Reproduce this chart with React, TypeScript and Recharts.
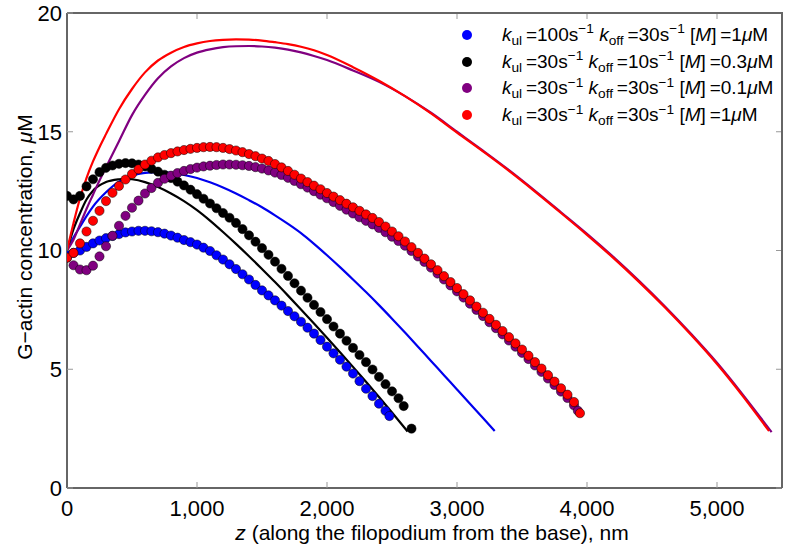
import { ComposedChart, Line, Scatter, XAxis, YAxis } from 'recharts'

type Pt = [number, number]

// z (nm) vs G-actin (uM), simulation points
const blueDots: Pt[] = [
  [0, 9.8], [50, 9.9], [100, 10.0], [150, 10.15], [200, 10.3], [250, 10.42], [300, 10.52], [350, 10.61],
  [400, 10.69], [450, 10.76], [500, 10.8], [550, 10.83], [600, 10.83], [650, 10.81], [700, 10.77],
  [750, 10.71], [800, 10.63], [850, 10.54], [900, 10.44], [950, 10.35], [1000, 10.25], [1050, 10.12],
  [1100, 9.98], [1150, 9.8], [1200, 9.62], [1250, 9.42], [1300, 9.22], [1350, 9.0], [1400, 8.78],
  [1450, 8.55], [1500, 8.32], [1550, 8.11], [1600, 7.9], [1650, 7.68], [1700, 7.45], [1750, 7.23],
  [1800, 7.0], [1850, 6.75], [1900, 6.5], [1950, 6.23], [2000, 5.95], [2050, 5.67], [2100, 5.4],
  [2150, 5.11], [2200, 4.82], [2250, 4.5], [2300, 4.18], [2350, 3.87], [2400, 3.55], [2450, 3.25],
  [2480, 3.03],
]

const blackDots: Pt[] = [
  [0, 12.3], [50, 12.15], [100, 12.3], [150, 12.7], [200, 13.0], [250, 13.3], [300, 13.48], [350, 13.58],
  [400, 13.65], [450, 13.68], [500, 13.67], [550, 13.62], [600, 13.54], [650, 13.44], [700, 13.32],
  [750, 13.19], [800, 13.05], [850, 12.9], [900, 12.74], [950, 12.56], [1000, 12.37], [1050, 12.18],
  [1100, 11.98], [1150, 11.78], [1200, 11.58], [1250, 11.38], [1300, 11.16], [1350, 10.9], [1400, 10.64],
  [1450, 10.37], [1500, 10.1], [1550, 9.82], [1600, 9.53], [1650, 9.23], [1700, 8.93], [1750, 8.62],
  [1800, 8.31], [1850, 8.01], [1900, 7.71], [1950, 7.41], [2000, 7.11], [2050, 6.8], [2100, 6.5],
  [2150, 6.2], [2200, 5.9], [2250, 5.6], [2300, 5.3], [2350, 4.99], [2400, 4.68], [2450, 4.37],
  [2500, 4.07], [2550, 3.78], [2590, 3.45], [2650, 2.5],
]

const purpleDots: Pt[] = [
  [0, 9.7], [50, 9.38], [100, 9.2], [150, 9.17], [200, 9.36], [250, 9.75], [300, 10.18], [350, 10.62],
  [400, 11.04], [450, 11.46], [500, 11.8], [550, 12.1], [600, 12.4], [650, 12.63], [700, 12.85],
  [750, 13.02], [800, 13.15], [850, 13.26], [900, 13.35], [950, 13.43], [1000, 13.49], [1050, 13.54],
  [1100, 13.57], [1150, 13.6], [1200, 13.62], [1250, 13.62], [1300, 13.61], [1350, 13.59], [1400, 13.56],
  [1450, 13.51], [1500, 13.45], [1550, 13.37], [1600, 13.28], [1650, 13.18], [1700, 13.06], [1750, 12.93],
  [1800, 12.79], [1850, 12.65], [1900, 12.5], [1950, 12.35], [2000, 12.2], [2050, 12.04], [2100, 11.88],
  [2150, 11.72], [2200, 11.56], [2250, 11.4], [2300, 11.25], [2350, 11.1], [2400, 10.95], [2450, 10.77],
  [2500, 10.58], [2550, 10.4], [2600, 10.2], [2650, 9.98], [2700, 9.75], [2750, 9.52], [2800, 9.28],
  [2850, 9.03], [2900, 8.78], [2950, 8.53], [3000, 8.28], [3050, 8.02], [3100, 7.76], [3150, 7.5],
  [3200, 7.24], [3250, 6.98], [3300, 6.73], [3350, 6.47], [3400, 6.21], [3450, 5.95], [3500, 5.69],
  [3550, 5.43], [3600, 5.16], [3650, 4.89], [3700, 4.61], [3750, 4.34], [3800, 4.06], [3850, 3.79],
  [3900, 3.48], [3930, 3.25],
]

const redDots: Pt[] = [
  [0, 9.7], [50, 9.9], [100, 10.3], [150, 10.8], [200, 11.25], [250, 11.67], [300, 12.08], [350, 12.43],
  [400, 12.72], [450, 12.99], [500, 13.22], [550, 13.42], [600, 13.62], [650, 13.78], [700, 13.92],
  [750, 14.02], [800, 14.1], [850, 14.17], [900, 14.23], [950, 14.28], [1000, 14.32], [1050, 14.35],
  [1100, 14.36], [1150, 14.35], [1200, 14.32], [1250, 14.27], [1300, 14.21], [1350, 14.14], [1400, 14.06],
  [1450, 13.97], [1500, 13.87], [1550, 13.77], [1600, 13.64], [1650, 13.5], [1700, 13.35], [1750, 13.19],
  [1800, 13.03], [1850, 12.88], [1900, 12.73], [1950, 12.58], [2000, 12.42], [2050, 12.27], [2100, 12.12],
  [2150, 11.97], [2200, 11.82], [2250, 11.67], [2300, 11.52], [2350, 11.37], [2400, 11.2], [2450, 11.01],
  [2500, 10.8], [2550, 10.6], [2600, 10.38], [2650, 10.14], [2700, 9.9], [2750, 9.66], [2800, 9.42],
  [2850, 9.17], [2900, 8.92], [2950, 8.67], [3000, 8.42], [3050, 8.16], [3100, 7.9], [3150, 7.64],
  [3200, 7.38], [3250, 7.12], [3300, 6.87], [3350, 6.61], [3400, 6.35], [3450, 6.09], [3500, 5.83],
  [3550, 5.57], [3600, 5.3], [3650, 5.03], [3700, 4.75], [3750, 4.48], [3800, 4.2], [3850, 3.93],
  [3900, 3.62], [3946, 3.15],
]

// model curves
const blueLine: Pt[] = [
  [0, 10], [50, 10.55], [100, 11.0], [150, 11.45], [200, 11.85], [300, 12.45], [400, 12.9], [500, 13.15],
  [600, 13.27], [700, 13.3], [800, 13.27], [900, 13.18], [1000, 13.05], [1100, 12.87], [1200, 12.65],
  [1300, 12.4], [1400, 12.12], [1500, 11.82], [1600, 11.48], [1700, 11.12], [1800, 10.73], [1900, 10.28],
  [2000, 9.8], [2100, 9.3], [2200, 8.78], [2300, 8.25], [2400, 7.7], [2500, 7.13], [2600, 6.55],
  [2700, 5.95], [2800, 5.35], [2900, 4.75], [3000, 4.15], [3100, 3.55], [3200, 2.95], [3290, 2.4],
]

const blackLine: Pt[] = [
  [0, 10], [50, 10.9], [100, 11.57], [150, 12.15], [200, 12.52], [300, 12.88], [400, 13.0], [450, 13.02],
  [500, 13.0], [600, 12.88], [700, 12.67], [800, 12.4], [900, 12.08], [1000, 11.7], [1100, 11.26],
  [1200, 10.78], [1300, 10.28], [1400, 9.76], [1500, 9.22], [1600, 8.67], [1700, 8.1], [1800, 7.52],
  [1900, 6.93], [2000, 6.33], [2100, 5.72], [2200, 5.1], [2300, 4.47], [2400, 3.83], [2500, 3.18],
  [2620, 2.38],
]

const purpleLine: Pt[] = [
  [0, 10], [50, 10.45], [100, 11.1], [150, 11.75], [200, 12.35], [250, 12.95], [300, 13.5], [350, 14.05],
  [400, 14.6], [500, 15.7], [600, 16.55], [700, 17.25], [800, 17.75], [900, 18.1], [1000, 18.33],
  [1100, 18.47], [1200, 18.56], [1300, 18.6], [1400, 18.61], [1500, 18.59], [1600, 18.54], [1700, 18.46],
  [1800, 18.34], [1900, 18.19], [2000, 18.02], [2200, 17.58], [2400, 17.1], [2600, 16.5], [2800, 15.8],
  [3000, 15.0], [3200, 14.2], [3400, 13.38], [3600, 12.51], [3800, 11.61], [4000, 10.7], [4200, 9.74],
  [4400, 8.72], [4600, 7.64], [4800, 6.49], [5000, 5.27], [5200, 3.92], [5420, 2.35],
]

const redLine: Pt[] = [
  [0, 10], [50, 11.15], [100, 12.2], [150, 13.05], [200, 13.75], [250, 14.35], [300, 14.9], [400, 15.95],
  [500, 16.8], [600, 17.5], [700, 18.0], [800, 18.33], [900, 18.57], [1000, 18.72], [1100, 18.82],
  [1200, 18.87], [1300, 18.89], [1400, 18.88], [1500, 18.84], [1600, 18.77], [1700, 18.69], [1800, 18.58],
  [1900, 18.43], [2000, 18.23], [2200, 17.72], [2400, 17.15], [2600, 16.5], [2800, 15.77], [3000, 14.96],
  [3200, 14.17], [3400, 13.35], [3600, 12.48], [3800, 11.58], [4000, 10.66], [4200, 9.7], [4400, 8.68],
  [4600, 7.6], [4800, 6.45], [5000, 5.22], [5200, 3.86], [5400, 2.4],
]

const X_MAX = 5500
const Y_MAX = 20
const X_TICKS = [0, 1000, 2000, 3000, 4000, 5000]
const Y_TICKS = [0, 5, 10, 15, 20]

const legendRows = [
  { color: '#0000ff', kul: '100', koff: '30', m: '1' },
  { color: '#000000', kul: '30', koff: '10', m: '0.3' },
  { color: '#800080', kul: '30', koff: '30', m: '0.1' },
  { color: '#ff0000', kul: '30', koff: '30', m: '1' },
]

const dotSeries = [
  { name: 'blue', color: '#0000ff', pts: blueDots },
  { name: 'black', color: '#000000', pts: blackDots },
  { name: 'purple', color: '#800080', pts: purpleDots },
  { name: 'red', color: '#ff0000', pts: redDots },
]

const lineSeries = [
  { name: 'blue', color: '#0000ee', pts: blueLine },
  { name: 'black', color: '#000000', pts: blackLine },
  { name: 'purple', color: '#800080', pts: purpleLine },
  { name: 'red', color: '#ff0000', pts: redLine },
]

const W = 786
const H = 552
// plot box in page pixels
const PLOT = { left: 67, top: 13, right: 782, bottom: 488 }

const FONT = '"Liberation Sans", Arial, sans-serif'
const rows = (pts: Pt[]) => pts.map(([z, c]) => ({ z, c }))

const dotShape = (fill: string) => (p: any) => (
  <circle cx={p.cx} cy={p.cy} r={4.6} fill={fill} stroke="#000" strokeOpacity={0.7} strokeWidth={0.7} />
)

const sub = { fontSize: '0.72em', position: 'relative' as const, top: '0.3em' }
const sup = { fontSize: '0.72em', position: 'relative' as const, top: '-0.55em' }

function LegendBox() {
  return (
    <div style={{ position: 'absolute', left: 0, top: 0, fontFamily: FONT, fontSize: 19, color: '#000' }}>
      {legendRows.map((r, i) => {
        const cy = 35 + i * 26.7
        return (
          <div key={i}>
            <div
              style={{
                position: 'absolute', left: 462, top: cy - 5, width: 10, height: 10,
                borderRadius: '50%', background: r.color,
              }}
            />
            <div style={{ position: 'absolute', left: 502, top: cy - 12, height: 24, lineHeight: '24px', whiteSpace: 'nowrap' }}>
              <i>k</i><span style={sub}>ul</span>{'\u2009=' + r.kul}s<span style={sup}>−1</span>{' '}
              <i>k</i><span style={sub}>off</span>{'\u2009=' + r.koff}s<span style={sup}>−1</span>{' '}
              [<i>M</i>]{'\u2009=' + r.m}<i>μ</i>M
            </div>
          </div>
        )
      })}
    </div>
  )
}

// x-axis title plus the top/right edges of the box with inward ticks
const xLabelAndFrame = () => {
  const pw = PLOT.right - PLOT.left
  const ph = PLOT.bottom - PLOT.top
  return (
    <g>
      <text x={432} y={540} textAnchor="middle" fontSize={21} fontFamily={FONT} fill="#000">
        <tspan fontStyle="italic">z</tspan> (along the filopodium from the base), nm
      </text>
      {X_TICKS.map((v) => {
        const x = PLOT.left + (v / X_MAX) * pw
        return <line key={'t' + v} x1={x} x2={x} y1={PLOT.top} y2={PLOT.top + 6} stroke="#999" />
      })}
      {Y_TICKS.map((v) => {
        const y = PLOT.bottom - (v / Y_MAX) * ph
        return <line key={'r' + v} x1={PLOT.right - 6} x2={PLOT.right} y1={y} y2={y} stroke="#999" />
      })}
      <path
        d={`M${PLOT.left},${PLOT.top}H${PLOT.right}V${PLOT.bottom}`}
        fill="none" stroke="#666" strokeWidth={2}
      />
    </g>
  )
}

const frameAxis = { stroke: '#666', strokeWidth: 2 }
const tickMark = { stroke: '#999' }

export default function App() {
  return (
    <div style={{ position: 'absolute', left: 0, top: 0, width: W, height: H, background: '#fff' }}>
      <ComposedChart
        width={W} height={H}
        margin={{ top: PLOT.top, right: W - PLOT.right, bottom: 0, left: 0 }}
      >
        <XAxis
          dataKey="z" type="number" domain={[0, X_MAX]} ticks={X_TICKS} allowDataOverflow
          height={H - PLOT.bottom} tickSize={-6} tickMargin={18}
          tickFormatter={(v: number) => v.toLocaleString('en-US')}
          tick={{ fill: '#000', fontSize: 22, fontFamily: FONT }}
          axisLine={frameAxis} tickLine={tickMark}
          label={xLabelAndFrame}
        />
        <YAxis
          dataKey="c" type="number" domain={[0, Y_MAX]} ticks={Y_TICKS} allowDataOverflow
          width={PLOT.left} tickSize={-6} tickMargin={11}
          tick={{ fill: '#000', fontSize: 22, fontFamily: FONT }}
          axisLine={frameAxis} tickLine={tickMark}
          label={() => (
            <text x={32} y={237} transform="rotate(-90 32 237)" textAnchor="middle" fontSize={21} fontFamily={FONT} fill="#000">
              G−actin concentration, <tspan fontStyle="italic">μ</tspan>M
            </text>
          )}
        />
        {dotSeries.map((s) => (
          <Scatter key={'d' + s.name} data={rows(s.pts)} shape={dotShape(s.color)} isAnimationActive={false} />
        ))}
        {lineSeries.map((s) => (
          <Line
            key={'l' + s.name} data={rows(s.pts)} dataKey="c" type="monotone"
            stroke={s.color} strokeWidth={2.2} dot={false} activeDot={false} isAnimationActive={false}
          />
        ))}
      </ComposedChart>
      <LegendBox />
    </div>
  )
}
